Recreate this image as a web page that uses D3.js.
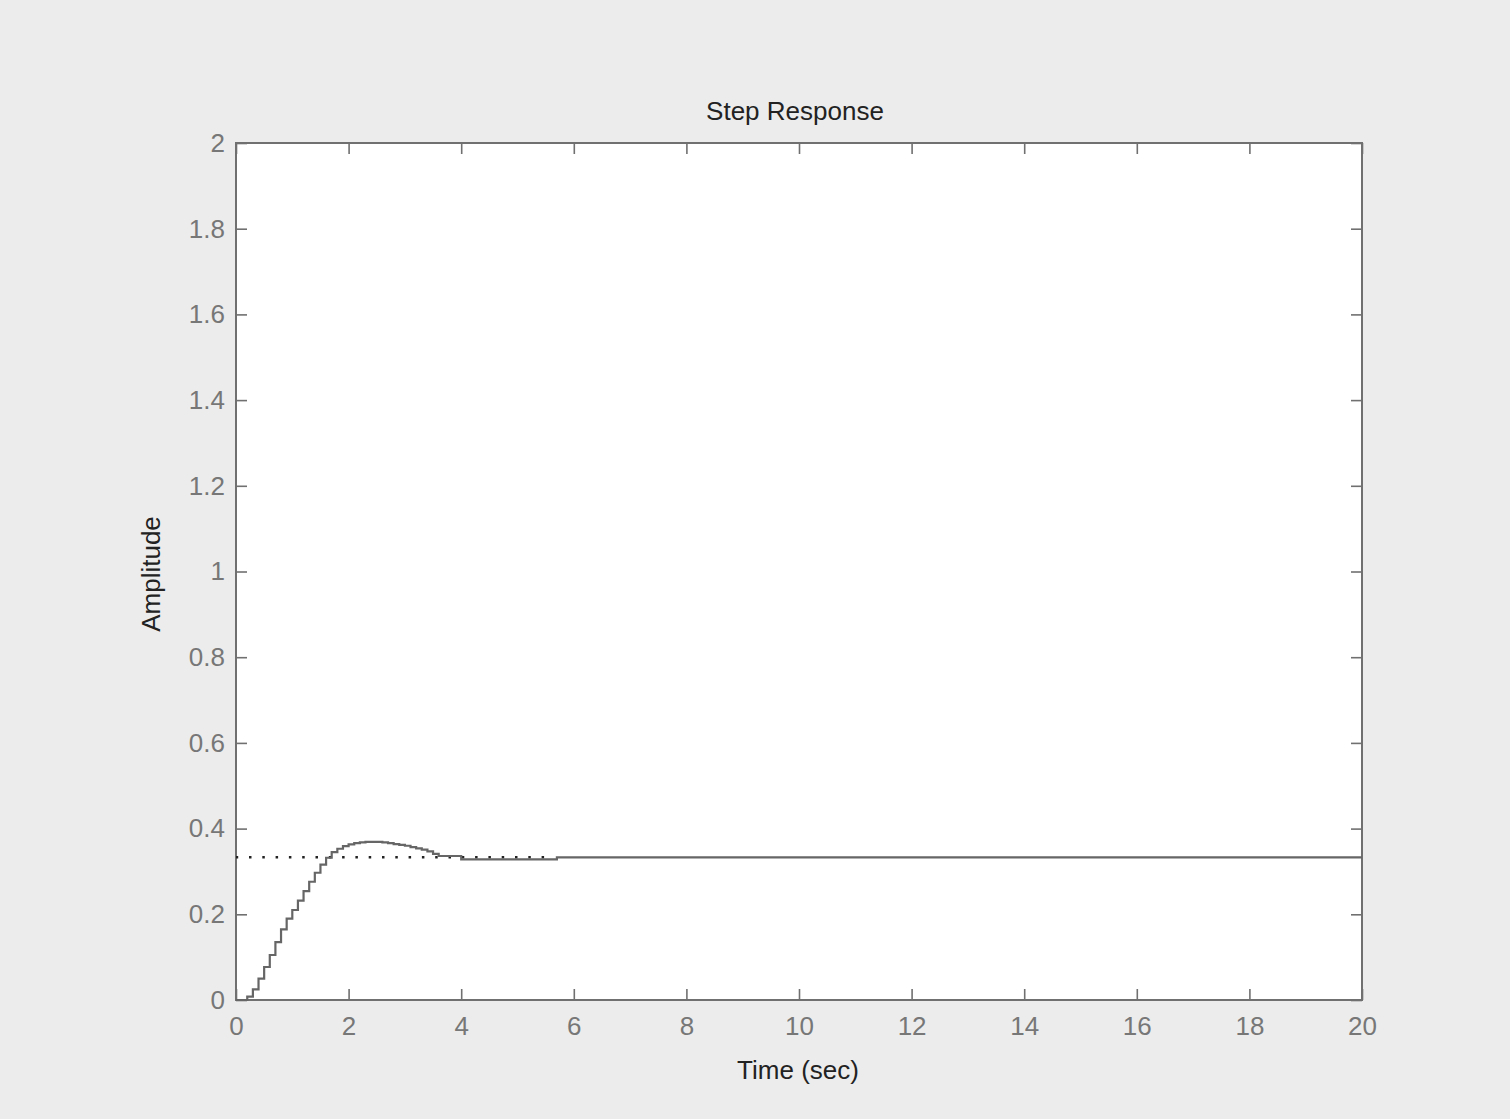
<!DOCTYPE html>
<html><head><meta charset="utf-8">
<script src="https://cdn.jsdelivr.net/npm/d3@7"></script>
<style>
html,body{margin:0;padding:0;background:#fff;}
svg{display:block;}
text{font-family:"Liberation Sans",Arial,sans-serif;}
</style></head>
<body>
<script>
// Sample times (sec) and response values (step-held, Ts = 0.1 s)
const times = [0.0,0.1,0.2,0.3,0.4,0.5,0.6,0.7,0.8,0.9,1.0,1.1,1.2,1.3,1.4,1.5,1.6,1.7,1.8,1.9,
  2.0,2.1,2.2,2.3,2.4,2.5,2.6,2.7,2.8,2.9,3.0,3.1,3.2,3.3,3.4,3.5,3.6,4.0,5.7,20.0];
const amplitude = [0,0,0.008,0.025,0.05,0.077,0.105,0.135,0.165,0.19,0.21,0.232,0.254,0.276,0.297,0.316,0.332,0.345,0.353,0.359,
  0.363,0.366,0.368,0.369,0.369,0.369,0.368,0.366,0.364,0.362,0.36,0.357,0.354,0.351,0.347,0.341,0.336,0.328,0.333,0.333];
const steadyState = 1/3;
const steadyLineEnd = 5.6;
const xTicks = [0,2,4,6,8,10,12,14,16,18,20];
const yTicks = [0,0.2,0.4,0.6,0.8,1,1.2,1.4,1.6,1.8,2];
const yTickLabels = ["0","0.2","0.4","0.6","0.8","1","1.2","1.4","1.6","1.8","2"];
const title = "Step Response";
const xLabel = "Time (sec)";
const yLabel = "Amplitude";

const W = 1510, H = 1119;
const m = {left:236, right:1510-1362, top:143, bottom:1119-1000};
const svg = d3.select("body").append("svg").attr("width",W).attr("height",H);
svg.append("rect").attr("width",W).attr("height",H).attr("fill","#ececec");

const x = d3.scaleLinear().domain([0,20]).range([m.left, W-m.right]);
const y = d3.scaleLinear().domain([0,2]).range([H-m.bottom, m.top]);

svg.append("rect").attr("x",x(0)).attr("y",y(2)).attr("width",x(20)-x(0)).attr("height",y(0)-y(2))
  .attr("fill","#fff");

const axisColor = "#707070";
const tickLen = 11;
function style(g, labels){
  g.select(".domain").remove();
  g.selectAll(".tick line").attr("stroke",axisColor).attr("stroke-width",1.6);
  g.selectAll(".tick text").attr("fill","#777").attr("font-size",26);
  if(!labels) g.selectAll(".tick text").remove();
}
svg.append("g").attr("transform",`translate(0,${y(0)})`)
  .call(d3.axisBottom(x).tickValues(xTicks).tickSizeInner(-tickLen).tickSizeOuter(0).tickPadding(17).tickFormat(d3.format("d")))
  .call(g=>style(g,true));
svg.append("g").attr("transform",`translate(0,${y(2)})`)
  .call(d3.axisTop(x).tickValues(xTicks).tickSizeInner(-tickLen).tickSizeOuter(0))
  .call(g=>style(g,false));
svg.append("g").attr("transform",`translate(${x(0)},0)`)
  .call(d3.axisLeft(y).tickValues(yTicks).tickSizeInner(-tickLen).tickSizeOuter(0).tickPadding(11).tickFormat((d,i)=>yTickLabels[i]))
  .call(g=>style(g,true));
svg.append("g").attr("transform",`translate(${x(20)},0)`)
  .call(d3.axisRight(y).tickValues(yTicks).tickSizeInner(-tickLen).tickSizeOuter(0))
  .call(g=>style(g,false));

svg.append("rect").attr("x",x(0)).attr("y",y(2)).attr("width",x(20)-x(0)).attr("height",y(0)-y(2))
  .attr("fill","none").attr("stroke",axisColor).attr("stroke-width",2);

// steady-state dotted line
svg.append("line").attr("x1",x(0)).attr("x2",x(steadyLineEnd)).attr("y1",y(steadyState)).attr("y2",y(steadyState))
  .attr("stroke","#222").attr("stroke-width",2.5).attr("stroke-dasharray","2.5,10.8").attr("stroke-dashoffset",-13);

const pts = times.map((t,i)=>[t,amplitude[i]]);
const line = d3.line().x(d=>x(d[0])).y(d=>y(d[1])).curve(d3.curveStepAfter);
svg.append("path").datum(pts).attr("d",line).attr("fill","none").attr("stroke","#666").attr("stroke-width",2.2);

svg.append("text").attr("x",795).attr("y",120).attr("text-anchor","middle").attr("font-size",26).attr("fill","#222").text(title);
svg.append("text").attr("x",798).attr("y",1079).attr("text-anchor","middle").attr("font-size",26).attr("fill","#222").text(xLabel);
svg.append("text").attr("transform","translate(160,574) rotate(-90)").attr("text-anchor","middle").attr("font-size",26).attr("fill","#222").text(yLabel);
</script>
</body></html>
